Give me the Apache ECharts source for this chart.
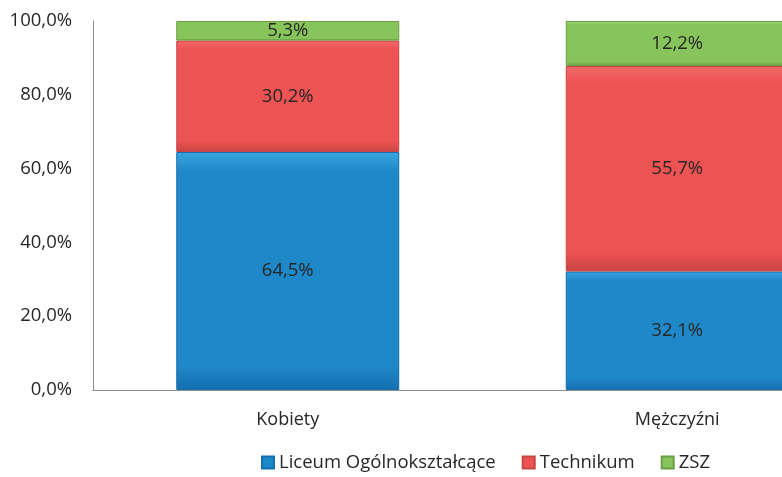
<!DOCTYPE html>
<html>
<head>
<meta charset="utf-8">
<script src="https://cdn.jsdelivr.net/npm/echarts@6/dist/echarts.min.js"></script>
<style>
  html, body { margin: 0; padding: 0; background: #fff; }
  #chart { width: 782px; height: 477px; }
</style>
</head>
<body>
<div id="chart"></div>
<script>
const categories = ['Kobiety', 'Mężczyźni'];
const seriesNames = ['Liceum Ogólnokształcące', 'Technikum', 'ZSZ'];
const liceum = [64.5, 32.1];
const technikum = [30.2, 55.7];
const zsz = [5.3, 12.2];

const colors = {
    'Liceum Ogólnokształcące': ['#3aa6e0', '#1f88c9', '#156fae'],
    'Technikum': ['#f26a6a', '#ee5353', '#c94444'],
    'ZSZ': ['#a3d678', '#87c45b', '#6a9e45'],
};

const fmt = v => v.toFixed(1).replace('.', ',') + '%';
const font = '"Open Sans", Lato, sans-serif';

function makeSeries(name, data) {
    const c = colors[name];
    return {
        name: name,
        type: 'bar',
        stack: 'total',
        barWidth: 223,
        data: data,
        itemStyle: {
            color: new echarts.graphic.LinearGradient(0, 0, 0, 1, [
                { offset: 0, color: c[0] },
                { offset: 0.08, color: c[1] },
                { offset: 0.9, color: c[1] },
                { offset: 1, color: c[2] },
            ]),
            borderColor: c[2],
            borderWidth: 1,
        },
        label: {
            show: true,
            position: 'inside',
            formatter: p => fmt(p.value),
            color: '#262626',
            fontSize: 18.5,
            fontFamily: font,
        },
        emphasis: { disabled: true },
    };
}

const chart = echarts.init(document.getElementById('chart'));
chart.setOption({
    animation: false,
    color: ['#1f88c9', '#ee5353', '#87c45b'],
    grid: {
        left: 93,
        right: -90,
        top: 21,
        bottom: 87,
        outerBoundsMode: 'none',
    },
    legend: {
        bottom: 0,
        left: 256,
        itemWidth: 12,
        itemHeight: 12,
        itemGap: 26,
        icon: 'rect',
        textStyle: { fontSize: 18.5, color: '#262626', fontFamily: font },
        data: seriesNames,
    },
    xAxis: {
        type: 'category',
        data: categories,
        axisLine: { lineStyle: { color: '#8c8c8c', width: 1 } },
        axisTick: { show: false },
        axisLabel: { fontSize: 18, color: '#262626', fontFamily: font, margin: 21 },
    },
    yAxis: {
        type: 'value',
        min: 0,
        max: 100,
        interval: 20,
        splitLine: { show: false },
        axisLine: { show: true, lineStyle: { color: '#8c8c8c', width: 1 } },
        axisTick: { show: false },
        axisLabel: {
            fontSize: 18.5,
            color: '#262626',
            fontFamily: font,
            margin: 21,
            formatter: v => fmt(v),
        },
    },
    series: [
        makeSeries(seriesNames[0], liceum),
        makeSeries(seriesNames[1], technikum),
        makeSeries(seriesNames[2], zsz),
    ],
});
</script>
</body>
</html>
